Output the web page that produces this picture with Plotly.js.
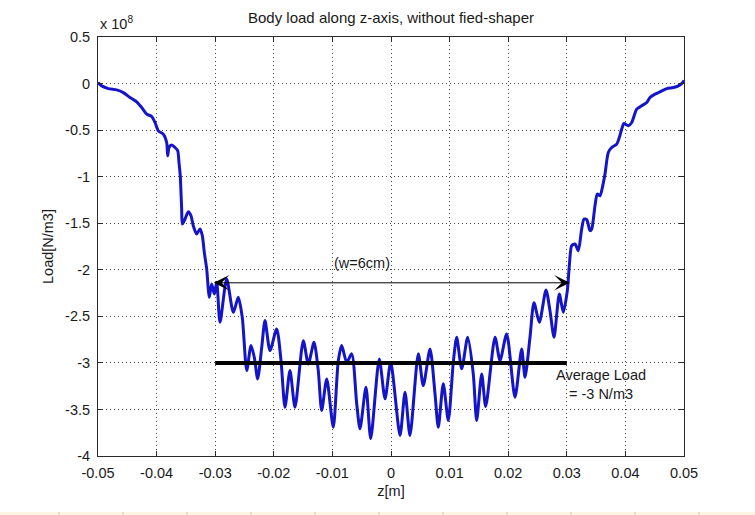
<!DOCTYPE html>
<html>
<head>
<meta charset="utf-8">
<script src="https://cdn.plot.ly/plotly-3.0.1.min.js"></script>
<style>
  html, body { margin: 0; padding: 0; background: #ffffff; }
  #chart { width: 755px; height: 515px; }
  /* thin page strip along the bottom edge */
  #strip {
    position: absolute; left: 0; top: 511.5px; width: 755px; height: 3.5px;
    background-color: #fdf5e1;
    background-image: linear-gradient(to right, #cdc5b3 0, #cdc5b3 1.5px, transparent 1.5px);
    background-size: 64px 100%;
    background-position: 58.5px 0;
  }
</style>
</head>
<body>
<div id="chart"></div>
<div id="strip"></div>
<script>
// Position along the z-axis [m]
const zPos = [
  -0.0500, -0.04937, -0.04824, -0.04681, -0.04568, -0.04454, -0.04340, -0.04254, -0.04169, -0.04084,
  -0.04027, -0.03971, -0.03886, -0.03828, -0.03811, -0.03788, -0.03742, -0.03686, -0.03640, -0.03618,
  -0.03596, -0.03584, -0.03572, -0.03561, -0.03515, -0.03459, -0.03413, -0.03374, -0.03316, -0.03259,
  -0.03220, -0.03186, -0.03145, -0.03118, -0.03101, -0.03060, -0.03015, -0.02974, -0.02918, -0.02804,
  -0.02691, -0.02606, -0.02538, -0.02462, -0.02389, -0.02333, -0.02275, -0.02206, -0.02150, -0.02065,
  -0.01951, -0.01877, -0.01809, -0.01724, -0.01638, -0.01497, -0.01411, -0.01314, -0.01241, -0.01183,
  -0.01097, -0.00985, -0.00899, -0.00841, -0.00756, -0.00671, -0.00585, -0.00529, -0.00427, -0.00346,
  -0.00200, -0.00102, -0.00005, 0.00154, 0.00239, 0.00324, 0.00466, 0.00551, 0.00666, 0.00751,
  0.00807, 0.00892, 0.00978, 0.01063, 0.01121, 0.01206, 0.01309, 0.01404, 0.01462, 0.01548,
  0.01616, 0.01775, 0.01860, 0.01974, 0.02116, 0.02230, 0.02287, 0.02372, 0.02440, 0.02531,
  0.02645, 0.02713, 0.02782, 0.02872, 0.02940, 0.03009, 0.03043, 0.03084, 0.03140, 0.03196,
  0.03254, 0.03294, 0.03340, 0.03396, 0.03425, 0.03481, 0.03520, 0.03567, 0.03613, 0.03652,
  0.03708, 0.03766, 0.03852, 0.03896, 0.03937, 0.03976, 0.04050, 0.04108, 0.04193, 0.04278,
  0.04364, 0.04420, 0.04505, 0.04590, 0.04705, 0.04818, 0.04903, 0.04988, 0.0500
];

// Body load, in units of 1e8 N/m3
const bodyLoad = [
  0.010, -0.025, -0.054, -0.068, -0.097, -0.150, -0.196, -0.258, -0.328, -0.354,
  -0.418, -0.508, -0.543, -0.633, -0.776, -0.687, -0.661, -0.687, -0.722, -0.848,
  -0.990, -1.170, -1.348, -1.509, -1.455, -1.377, -1.420, -1.527, -1.616, -1.562,
  -1.634, -1.813, -1.991, -2.206, -2.296, -2.152, -2.260, -2.135, -2.564, -2.099,
  -2.457, -2.296, -2.511, -3.083, -2.814, -2.940, -3.172, -2.833, -2.546, -2.868,
  -2.635, -2.975, -3.476, -3.083, -3.476, -2.761, -3.011, -2.779, -3.083, -3.512,
  -3.172, -3.691, -2.975, -2.814, -2.994, -2.903, -3.440, -3.708, -3.262, -3.815,
  -2.957, -3.386, -2.994, -3.780, -3.315, -3.780, -2.903, -3.244, -2.850, -3.333,
  -3.691, -3.225, -3.619, -2.994, -2.725, -3.064, -2.725, -3.118, -3.619, -3.118,
  -3.469, -2.725, -2.975, -2.689, -3.369, -2.850, -3.155, -2.725, -2.353, -2.564,
  -2.217, -2.439, -2.725, -2.260, -2.457, -2.224, -1.956, -1.741, -1.723, -1.795,
  -1.562, -1.455, -1.462, -1.580, -1.562, -1.312, -1.187, -1.205, -1.098, -0.972,
  -0.740, -0.687, -0.650, -0.579, -0.489, -0.429, -0.454, -0.418, -0.275, -0.239,
  -0.204, -0.150, -0.114, -0.089, -0.054, -0.043, -0.025, 0.018, 0.035
];

// Average load line over the 6 cm window
const averageZ = [-0.03, 0.03];
const averageLoad = [-3, -3];

// Width marker (double arrow) ends and level
const widthArrowZ = [-0.0305, 0.0305];
const widthArrowLoad = -2.14;

// Tick positions and labels
const xTickVals = [-0.05, -0.04, -0.03, -0.02, -0.01, 0, 0.01, 0.02, 0.03, 0.04, 0.05];
const xTickText = ['-0.05', '-0.04', '-0.03', '-0.02', '-0.01', '0', '0.01', '0.02', '0.03', '0.04', '0.05'];
const yTickVals = [0.5, 0, -0.5, -1, -1.5, -2, -2.5, -3, -3.5, -4];
const yTickText = ['0.5', '0', '-0.5', '-1', '-1.5', '-2', '-2.5', '-3', '-3.5', '-4'];

const FONT = '"Liberation Sans", Arial, Helvetica, sans-serif';
const INK = '#1a1a1a';

const traces = [
  {
    x: zPos, y: bodyLoad, type: 'scatter', mode: 'lines',
    line: { color: '#1414c8', width: 3, shape: 'spline', smoothing: 0.7 },
    hoverinfo: 'skip'
  },
  {
    x: averageZ, y: averageLoad, type: 'scatter', mode: 'lines',
    line: { color: '#000000', width: 4 },
    hoverinfo: 'skip'
  }
];

const axisCommon = {
  showline: true, mirror: 'ticks', linecolor: '#2a2a2a', linewidth: 1,
  ticks: 'inside', ticklen: 5, tickcolor: '#2a2a2a', tickwidth: 1,
  showgrid: true, gridcolor: '#4a4a4a', gridwidth: 1, griddash: '1px,3px',
  zeroline: false, tickmode: 'array',
  tickfont: { family: FONT, size: 14.5, color: INK }
};

const layout = {
  width: 755, height: 515,
  margin: { l: 98, r: 71, t: 37, b: 59 },
  paper_bgcolor: '#ffffff', plot_bgcolor: '#ffffff',
  showlegend: false,
  title: {
    text: 'Body load along z-axis, without fied-shaper',
    font: { family: FONT, size: 15, color: INK },
    x: 0.5, xref: 'paper', y: 0.965, yref: 'container', yanchor: 'middle'
  },
  xaxis: Object.assign({}, axisCommon, {
    range: [-0.05, 0.05],
    tickvals: xTickVals, ticktext: xTickText,
    ticklabelstandoff: 4,
    title: { text: 'z[m]', font: { family: FONT, size: 14.5, color: INK }, standoff: 5 }
  }),
  yaxis: Object.assign({}, axisCommon, {
    range: [-4, 0.5],
    tickvals: yTickVals, ticktext: yTickText,
    ticklabelstandoff: 4,
    title: { text: 'Load[N/m3]', font: { family: FONT, size: 14.5, color: INK }, standoff: 8 }
  }),
  annotations: [
    {
      xref: 'paper', yref: 'paper', x: 0, y: 1, xanchor: 'left', yanchor: 'bottom',
      text: 'x 10<sup>8</sup>', showarrow: false, yshift: 3,
      font: { family: FONT, size: 14.5, color: INK }
    },
    {
      xref: 'x', yref: 'y', axref: 'x', ayref: 'y',
      x: widthArrowZ[1], y: widthArrowLoad, ax: widthArrowZ[0], ay: widthArrowLoad,
      text: '', showarrow: true, arrowside: 'end+start',
      arrowhead: 3, startarrowhead: 3, arrowsize: 2.6, startarrowsize: 2.6,
      arrowwidth: 1, arrowcolor: '#000000', standoff: 0, startstandoff: 0
    },
    {
      xref: 'x', yref: 'y', x: -0.005, y: -1.93,
      text: '(w=6cm)', showarrow: false,
      font: { family: FONT, size: 14.5, color: INK }
    },
    {
      xref: 'x', yref: 'y', x: 0.0358, y: -3.23,
      text: 'Average Load<br>= -3 N/m3', showarrow: false, align: 'center',
      font: { family: FONT, size: 14.5, color: INK }
    }
  ]
};

Plotly.newPlot('chart', traces, layout, { staticPlot: true, displayModeBar: false });
</script>
</body>
</html>
